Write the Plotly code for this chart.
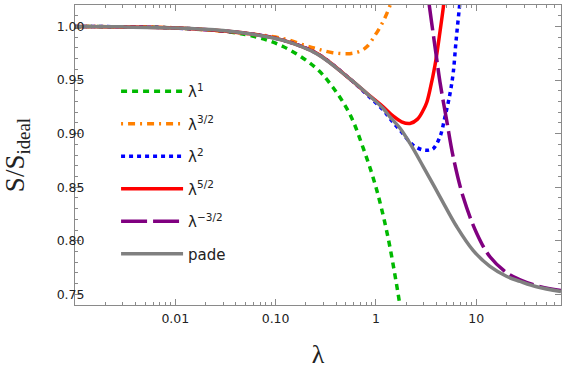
import plotly.graph_objects as go

# ---- data ----
lam_l1 = [0.001, 0.01, 0.05, 0.12, 0.25, 0.37, 0.55, 0.75, 1.0, 1.3, 1.6, 1.8]
s_l1 = [0.9998, 0.9985, 0.9925, 0.981, 0.9615, 0.9435, 0.918, 0.886, 0.850, 0.806, 0.760, 0.730]

lam_l32 = [0.001, 0.01, 0.05, 0.12, 0.2, 0.26, 0.37, 0.55, 0.7, 0.81, 1.0, 1.2, 1.4, 1.6]
s_l32 = [0.9998, 0.9987, 0.9935, 0.9885, 0.982, 0.979, 0.9755, 0.9746, 0.977, 0.981, 0.993, 1.006, 1.021, 1.04]

lam_l2 = [0.001, 0.01, 0.055, 0.12, 0.26, 0.55, 0.8, 1.18, 1.38, 1.74, 2.36, 2.97, 3.4, 3.73,
          4.35, 4.88, 5.47, 5.9, 6.3, 6.8, 7.2]
s_l2 = [1.0, 0.9985, 0.9932, 0.987, 0.9746, 0.951, 0.937, 0.922, 0.914, 0.903, 0.889, 0.8846, 0.8846, 0.886,
        0.897, 0.9156, 0.937, 0.957, 0.987, 1.018, 1.04]

lam_l52 = [0.001, 0.01, 0.055, 0.12, 0.26, 0.55, 0.8, 1.18, 1.5, 1.8, 2.18, 2.6, 2.97, 3.21, 3.46, 3.88,
           4.35, 4.7, 5.0]
s_l52 = [1.0, 0.9985, 0.9932, 0.987, 0.9746, 0.951, 0.938, 0.925, 0.916, 0.911, 0.9094, 0.9135, 0.922, 0.929,
         0.941, 0.9637, 0.995, 1.018, 1.04]

lam_lm32 = [3.1, 3.4, 3.7, 4.03, 4.35, 5.08, 5.9, 7.4, 10.1, 13.7, 20.2, 27.4, 40, 70]
s_lm32 = [1.05, 1.02, 0.995, 0.970, 0.948, 0.912, 0.878, 0.841, 0.807, 0.785, 0.770, 0.7635, 0.758, 0.7535]

lam_pade = [0.001, 0.003, 0.01, 0.03, 0.055, 0.119, 0.256, 0.55, 0.8, 1.18, 1.38, 1.74, 2.18, 2.97,
            4.35, 6.4, 9.3, 13.7, 20.2, 27.4, 40, 70]
s_pade = [1.0, 0.9996, 0.9985, 0.9962, 0.9932, 0.987, 0.9746, 0.951, 0.938, 0.9234, 0.9156, 0.905, 0.891, 0.869,
          0.841, 0.813, 0.791, 0.776, 0.7666, 0.762, 0.757, 0.7526]

names = ["λ<sup>1</sup>", "λ<sup>3/2</sup>", "λ<sup>2</sup>", "λ<sup>5/2</sup>", "λ<sup>−3/2</sup>", "pade"]

x_tickvals = [0.01, 0.1, 1, 10]
x_ticktext = ["0.01", "0.10", "1", "10"]
y_tickvals = [0.75, 0.80, 0.85, 0.90, 0.95, 1.00]
y_ticktext = ["0.75", "0.80", "0.85", "0.90", "0.95", "1.00"]

x_minor = [m * 10.0 ** e for e in range(-3, 2) for m in range(2, 10)]
y_minor = [round(0.74 + 0.01 * i, 2) for i in range(29)]

series = [
    (lam_l1, s_l1, "rgb(0,185,0)", "6px,5px"),
    (lam_l32, s_l32, "rgb(255,128,0)", "2px,5px,7px,5px"),
    (lam_l2, s_l2, "rgb(0,0,255)", "4px,4px"),
    (lam_l52, s_l52, "rgb(255,0,0)", "solid"),
    (lam_lm32, s_lm32, "rgb(128,0,128)", "26px,6px"),
    (lam_pade, s_pade, "rgb(128,128,128)", "solid"),
]

fig = go.Figure()
for i, (xs, ys, col, dash) in enumerate(series):
    fig.add_trace(go.Scatter(
        x=xs, y=ys, mode="lines", name=names[i], legendgroup=f"g{i}",
        line=dict(color=col, width=3.5, dash=dash, shape="spline", smoothing=1.0),
        hoverinfo="skip",
    ))

axis_col = "#8a8a8a"
fig.update_layout(
    width=564, height=369,
    margin=dict(l=75, r=3, t=5, b=64),
    paper_bgcolor="white", plot_bgcolor="white",
    font=dict(family="DejaVu Sans", size=12.5, color="#222"),
    showlegend=True,
    legend=dict(x=0.0845, y=0.767, xanchor="left", yanchor="top",
                bgcolor="rgba(0,0,0,0)", borderwidth=0,
                font=dict(family="DejaVu Sans", size=15, color="#222"),
                itemwidth=62, tracegroupgap=10),
    xaxis=dict(
        type="log", range=[-3, 1.845], automargin=False,
        tickvals=x_tickvals, ticktext=x_ticktext,
        ticks="inside", ticklen=6, tickcolor=axis_col, tickwidth=1,
        ticklabelstandoff=2,
        showline=True, linecolor=axis_col, linewidth=1, mirror="allticks",
        showgrid=False, zeroline=False,
        minor=dict(tickvals=x_minor, ticks="inside", ticklen=3, tickcolor=axis_col, showgrid=False),
        title=dict(text="λ", font=dict(family="Liberation Serif", size=26, color="#222"), standoff=19),
    ),
    yaxis=dict(
        range=[0.74, 1.02], automargin=False,
        tickvals=y_tickvals, ticktext=y_ticktext,
        ticks="inside", ticklen=6, tickcolor=axis_col, tickwidth=1,
        ticklabelstandoff=-13,
        showline=True, linecolor=axis_col, linewidth=1, mirror="allticks",
        showgrid=False, zeroline=False,
        minor=dict(tickvals=y_minor, ticks="inside", ticklen=3, tickcolor=axis_col, showgrid=False),
        title=dict(text="S/S<sub>ideal</sub>", font=dict(family="Liberation Serif", size=27, color="#222"), standoff=24),
    ),
)

fig.write_html("out.html", config={"displayModeBar": False},
               post_script="document.body.style.margin='0';")
